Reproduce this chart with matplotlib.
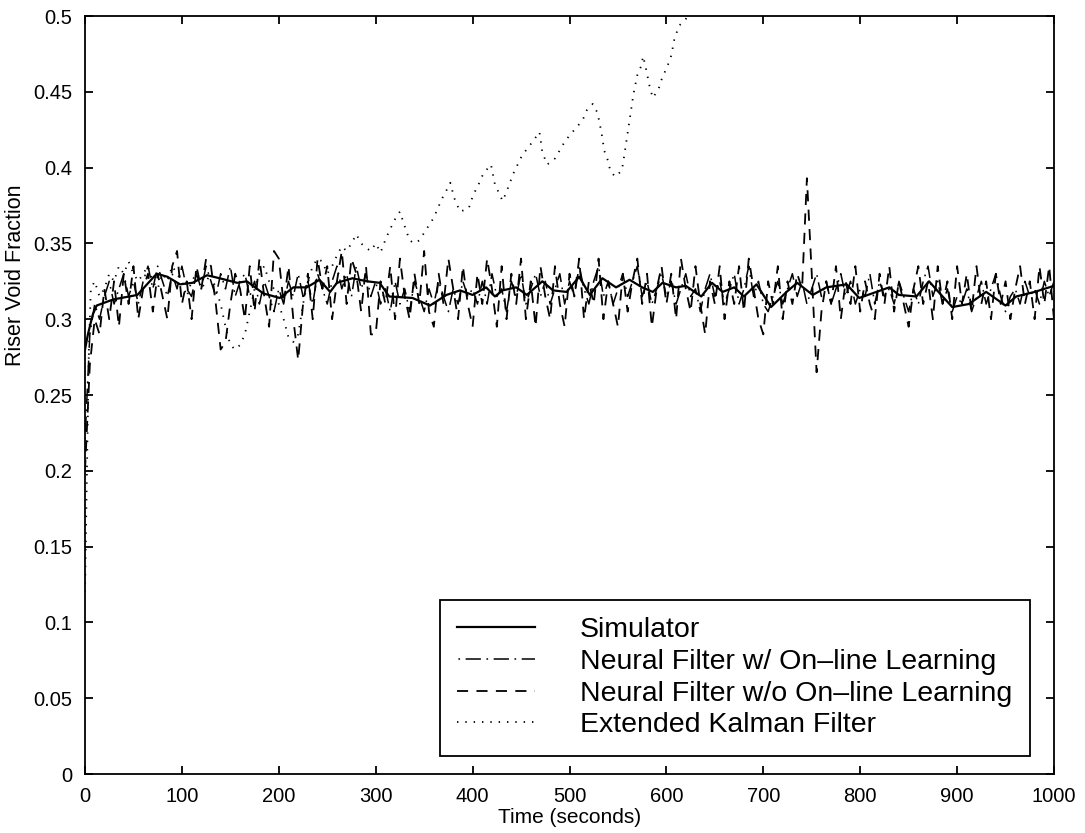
import numpy as np
import matplotlib
matplotlib.use("Agg")
import matplotlib.pyplot as plt

plt.rcParams['font.family'] = ['Liberation Sans', 'DejaVu Sans']
plt.rcParams['lines.scale_dashes'] = False

# ---------------- data ----------------
sim_t = [0, 3, 8, 12, 29, 54, 74, 85, 98, 111, 126, 139, 157, 167, 184, 201, 215, 229,
         242, 253, 260, 276, 291, 304, 314, 338, 356, 373, 387, 400, 414, 423, 431, 445,
         456, 472, 483, 497, 510, 521, 534, 548, 562, 575, 586, 596, 610, 620, 636, 647,
         658, 670, 680, 693, 708, 724, 735, 751, 765, 786, 799, 830, 840, 858, 871, 885,
         895, 912, 930, 950, 961, 980, 1000]
sim_v = [0.280, 0.290, 0.303, 0.309, 0.313, 0.316, 0.330, 0.328, 0.323, 0.324, 0.329, 0.327,
         0.324, 0.325, 0.317, 0.314, 0.321, 0.321, 0.326, 0.318, 0.324, 0.327, 0.325, 0.324,
         0.315, 0.314, 0.309, 0.316, 0.319, 0.316, 0.321, 0.315, 0.319, 0.321, 0.316, 0.325,
         0.319, 0.318, 0.328, 0.316, 0.327, 0.321, 0.326, 0.321, 0.318, 0.324, 0.321, 0.322,
         0.315, 0.324, 0.318, 0.321, 0.315, 0.323, 0.308, 0.318, 0.324, 0.316, 0.321, 0.323,
         0.314, 0.321, 0.316, 0.315, 0.325, 0.315, 0.308, 0.310, 0.318, 0.309, 0.315, 0.318,
         0.322]

nf_t = list(range(0, 1001, 5))
nf_on = [0.22, 0.29, 0.31, 0.30, 0.315, 0.325, 0.31, 0.32, 0.33, 0.315, 0.325, 0.31, 0.325, 0.335,
         0.32, 0.335, 0.325, 0.315, 0.33, 0.32, 0.335, 0.32, 0.315, 0.33, 0.32, 0.335, 0.325, 0.315,
         0.33, 0.32, 0.335, 0.315, 0.325, 0.33, 0.315, 0.325, 0.31, 0.325, 0.315, 0.305, 0.32, 0.31,
         0.325, 0.315, 0.33, 0.315, 0.325, 0.31, 0.33, 0.32, 0.31, 0.325, 0.335, 0.32, 0.33, 0.315,
         0.335, 0.32, 0.33, 0.315, 0.325, 0.31, 0.32, 0.305, 0.325, 0.31, 0.32, 0.305, 0.325, 0.315,
         0.305, 0.32, 0.31, 0.325, 0.315, 0.305, 0.32, 0.31, 0.325, 0.315, 0.32, 0.31, 0.325, 0.31,
         0.33, 0.315, 0.32, 0.305, 0.325, 0.315, 0.33, 0.31, 0.32, 0.33, 0.315, 0.325, 0.31, 0.32,
         0.33, 0.31, 0.325, 0.315, 0.335, 0.32, 0.31, 0.325, 0.335, 0.315, 0.325, 0.31, 0.32, 0.33,
         0.315, 0.325, 0.335, 0.315, 0.325, 0.31, 0.32, 0.33, 0.315, 0.325, 0.31, 0.32, 0.33, 0.315,
         0.32, 0.305, 0.32, 0.33, 0.315, 0.325, 0.31, 0.32, 0.33, 0.31, 0.32, 0.335, 0.315, 0.325,
         0.31, 0.305, 0.315, 0.325, 0.31, 0.32, 0.33, 0.315, 0.325, 0.31, 0.32, 0.33, 0.315, 0.325,
         0.31, 0.32, 0.33, 0.315, 0.325, 0.31, 0.32, 0.315, 0.33, 0.31, 0.325, 0.315, 0.32, 0.31,
         0.325, 0.315, 0.305, 0.32, 0.31, 0.325, 0.335, 0.315, 0.325, 0.31, 0.32, 0.305, 0.315, 0.31,
         0.32, 0.305, 0.315, 0.325, 0.31, 0.32, 0.33, 0.315, 0.305, 0.315, 0.32, 0.31, 0.325, 0.315,
         0.32, 0.31, 0.325, 0.315, 0.325]
nf_off = [0.20, 0.27, 0.30, 0.29, 0.32, 0.30, 0.325, 0.295, 0.33, 0.31, 0.335, 0.30, 0.32, 0.33,
          0.305, 0.33, 0.315, 0.30, 0.335, 0.345, 0.31, 0.325, 0.30, 0.335, 0.32, 0.34, 0.335, 0.31,
          0.28, 0.285, 0.31, 0.33, 0.32, 0.30, 0.335, 0.305, 0.34, 0.315, 0.295, 0.345, 0.34, 0.31,
          0.335, 0.30, 0.273, 0.31, 0.33, 0.30, 0.34, 0.32, 0.335, 0.30, 0.325, 0.345, 0.31, 0.34,
          0.33, 0.305, 0.335, 0.29, 0.29, 0.325, 0.31, 0.335, 0.30, 0.34, 0.315, 0.30, 0.33, 0.31,
          0.345, 0.305, 0.295, 0.33, 0.31, 0.34, 0.32, 0.30, 0.335, 0.31, 0.295, 0.33, 0.31, 0.34,
          0.32, 0.295, 0.335, 0.30, 0.33, 0.31, 0.34, 0.30, 0.325, 0.295, 0.335, 0.315, 0.30, 0.335,
          0.31, 0.295, 0.33, 0.315, 0.34, 0.30, 0.325, 0.31, 0.34, 0.30, 0.325, 0.31, 0.295, 0.33,
          0.305, 0.325, 0.34, 0.31, 0.33, 0.295, 0.32, 0.335, 0.31, 0.33, 0.30, 0.34, 0.32, 0.305,
          0.335, 0.31, 0.29, 0.325, 0.31, 0.335, 0.30, 0.325, 0.31, 0.335, 0.305, 0.34, 0.32, 0.30,
          0.29, 0.325, 0.31, 0.335, 0.30, 0.325, 0.31, 0.33, 0.32, 0.393, 0.33, 0.265, 0.305, 0.325,
          0.31, 0.335, 0.30, 0.325, 0.31, 0.335, 0.305, 0.325, 0.31, 0.30, 0.33, 0.31, 0.335, 0.305,
          0.325, 0.31, 0.295, 0.32, 0.335, 0.31, 0.325, 0.30, 0.335, 0.31, 0.325, 0.30, 0.335, 0.31,
          0.33, 0.305, 0.335, 0.31, 0.325, 0.30, 0.33, 0.31, 0.325, 0.30, 0.32, 0.335, 0.31, 0.325,
          0.30, 0.335, 0.31, 0.335, 0.30]

ekf_t = [0, 2, 4, 6, 10, 15, 20, 25, 30, 35, 40, 45, 50, 55, 60, 65, 70, 75, 80, 85, 90, 95,
         100, 105, 110, 115, 120, 125, 130, 135, 140, 145, 150, 155, 160, 165, 170, 175, 180,
         185, 190, 195, 200, 205, 210, 215, 220, 225, 230, 235, 240, 245, 250, 255, 260, 265,
         270, 275, 280, 285, 290, 295, 300, 305, 311, 315, 320, 325, 329, 335, 340, 345, 350,
         355, 360, 364, 368, 373, 377, 381, 387, 396, 399, 403, 407, 411, 419, 423, 431, 435,
         442, 451, 463, 469, 472, 477, 485, 495, 501, 508, 514, 518, 524, 529, 533, 536, 540,
         542, 547, 554, 557, 560, 563, 566, 570, 574, 576, 579, 583, 586, 592, 595, 599, 603,
         606, 607, 610, 613, 620, 630, 650]
ekf_v = [0.12, 0.20, 0.28, 0.32, 0.325, 0.315, 0.32, 0.33, 0.325, 0.335, 0.33, 0.338, 0.33,
         0.325, 0.33, 0.335, 0.325, 0.32, 0.33, 0.325, 0.335, 0.33, 0.325, 0.315, 0.325, 0.33,
         0.32, 0.325, 0.33, 0.32, 0.31, 0.295, 0.283, 0.28, 0.283, 0.29, 0.305, 0.32, 0.33, 0.335,
         0.325, 0.32, 0.31, 0.30, 0.288, 0.285, 0.29, 0.31, 0.325, 0.335, 0.34, 0.338, 0.33,
         0.335, 0.342, 0.348, 0.345, 0.35, 0.356, 0.35, 0.347, 0.345, 0.35, 0.344, 0.354, 0.3595,
         0.366, 0.371, 0.363, 0.352, 0.35, 0.352, 0.357, 0.362, 0.367, 0.373, 0.379, 0.385,
         0.390, 0.380, 0.371, 0.373, 0.379, 0.385, 0.390, 0.396, 0.402, 0.389, 0.378, 0.384,
         0.396, 0.408, 0.418, 0.4235, 0.410, 0.402, 0.406, 0.417, 0.422, 0.427, 0.432, 0.438,
         0.442, 0.436, 0.423, 0.411, 0.404, 0.398, 0.394, 0.398, 0.410, 0.423, 0.436, 0.4485,
         0.461, 0.467, 0.4735, 0.465, 0.4525, 0.446, 0.452, 0.458, 0.464, 0.470, 0.476, 0.482,
         0.488, 0.4935, 0.498, 0.512, 0.535]

labels = ["Simulator", "Neural Filter w/ On\u2013line Learning",
          "Neural Filter w/o On\u2013line Learning", "Extended Kalman Filter"]
xticks = [0, 100, 200, 300, 400, 500, 600, 700, 800, 900, 1000]
yticks = [0, 0.05, 0.1, 0.15, 0.2, 0.25, 0.3, 0.35, 0.4, 0.45, 0.5]
ytick_labels = ["0", "0.05", "0.1", "0.15", "0.2", "0.25", "0.3", "0.35", "0.4", "0.45", "0.5"]

# ---------------- figure ----------------
fig = plt.figure(figsize=(10.85, 8.33), dpi=100)
ax = fig.add_axes([85 / 1085, 1 - 774 / 833, (1054 - 85) / 1085, (774 - 16) / 833])

ax.plot(sim_t, sim_v, color='black', lw=1.6, linestyle='-', label=labels[0])
ax.plot(nf_t, nf_on, color='black', lw=1.1, linestyle=(14, (11, 4, 1.2, 4)), label=labels[1])
ax.plot(nf_t, nf_off, color='black', lw=1.3, linestyle=(0, (8, 6)), label=labels[2])
ax.plot(ekf_t, ekf_v, color='black', lw=1.3, linestyle=(0, (1, 5)), label=labels[3])

ax.set_xlim(0, 1000)
ax.set_ylim(0, 0.5)
ax.set_xticks(xticks)
ax.set_yticks(yticks)
ax.set_yticklabels(ytick_labels)

for s in ax.spines.values():
    s.set_linewidth(1.3)
ax.tick_params(direction='in', length=6, width=1.3, top=True, right=True,
               labelsize=14.5, pad=9)

ax.set_xlabel("Time (seconds)", fontsize=15, labelpad=2)
ax.set_ylabel("Riser Void Fraction", fontsize=15.5)
ax.yaxis.set_label_coords(-0.061, 0.658)

leg = ax.legend(loc='lower right', bbox_to_anchor=(0.975, 0.024), borderaxespad=0,
                fontsize=20.5, frameon=True, fancybox=False, edgecolor='black',
                handlelength=2.74, handletextpad=1.58, labelspacing=0.2, borderpad=0.615)
leg.get_frame().set_linewidth(1.3)
leg.get_frame().set_alpha(1)

fig.savefig("out.png", dpi=100)
